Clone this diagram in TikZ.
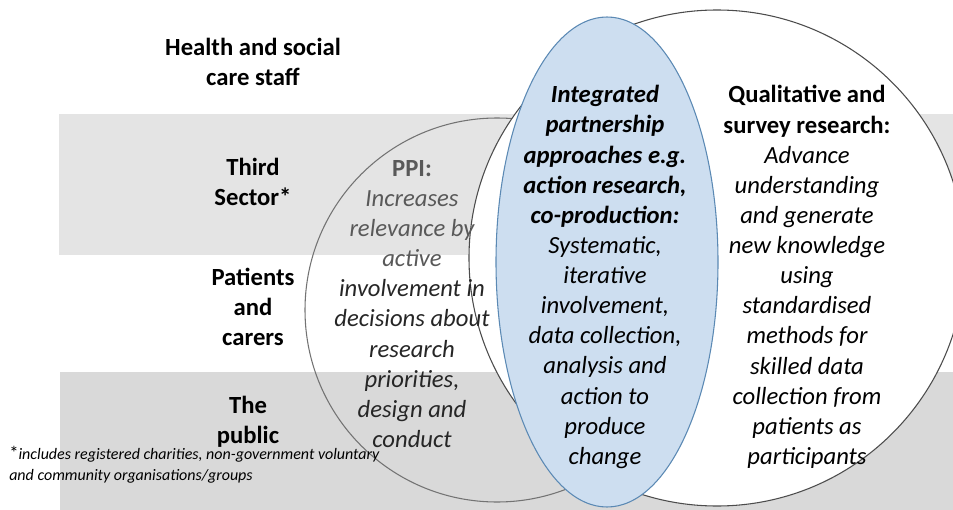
\documentclass[tikz,border=0pt]{standalone}
\usepackage{fontspec}
\setmainfont{Carlito}
\definecolor{bandlight}{RGB}{228,228,228}
\definecolor{banddark}{RGB}{217,217,217}
\definecolor{ovalfill}{RGB}{205,222,240}
\definecolor{ovaledge}{RGB}{91,137,180}
\definecolor{ppigray}{RGB}{89,89,89}
\definecolor{ppidark}{RGB}{38,38,38}

\begin{document}
\begin{tikzpicture}
  [x=0.75pt,y=-0.75pt,
   every node/.style={align=center,inner sep=0pt,font=\fontsize{18.5}{22.6}\selectfont},
   group/.style={font=\fontsize{18.5}{22.6}\selectfont\bfseries},
   ppitext/.style={text=ppidark,font=\fontsize{18.5}{22.6}\selectfont\itshape},
   ovaltext/.style={font=\fontsize{18.5}{22.6}\selectfont\itshape},
   note/.style={align=left,anchor=west,font=\fontsize{12}{15.8}\selectfont\itshape}]
  \useasboundingbox (0,0) rectangle (953,510);
  % the bands
  \fill[bandlight] (59,114) rectangle (953,255);
  \fill[banddark] (60,372) rectangle (953,510);
  % the circles and the oval
  \draw[black!55,line width=0.8pt] (497,310) circle (192);
  \draw[black!70,fill=white,line width=0.8pt] (717,258) circle (248);
  \draw[ovaledge,fill=ovalfill,line width=0.8pt] (607,262) ellipse (111 and 245);
  % who takes part
  \node[group] (staff) at (253,62) {Health and social\\care staff};
  \node[group] (third) at (253,182) {Third\\Sector*};
  \node[group] (patients) at (253,307) {Patients\\and\\carers};
  \node[group] (public) at (248,422) {The\\public};
  % the three kinds of research
  \node[ppitext] (ppi) at (412,304) {\textcolor{ppigray}{\textbf{\upshape PPI:}}\\
    \textcolor{ppigray}{Increases}\\\textcolor{ppigray}{relevance by}\\\textcolor{ppigray}{active}\\
    involvement in\\decisions about\\research\\priorities,\\design and\\conduct};
  \node[ovaltext] (partner) at (605,277) {\textbf{Integrated}\\\textbf{partnership}\\
    \textbf{approaches e.g.}\\\textbf{action research,}\\\textbf{co-production:}\\
    Systematic,\\iterative\\involvement,\\data collection,\\analysis and\\action to\\produce\\change};
  \node[ovaltext] (survey) at (807,277) {\textbf{\upshape Qualitative and}\\\textbf{\upshape survey research:}\\
    Advance\\understanding\\and generate\\new knowledge\\using\\standardised\\methods for\\
    skilled data\\collection from\\patients as\\participants};
  % footnote
  \node[note] (foot) at (9,465) {{\upshape\fontsize{14}{15.8}\selectfont*}includes registered charities, non-government voluntary\\
    and community organisations/groups};
\end{tikzpicture}
\end{document}
